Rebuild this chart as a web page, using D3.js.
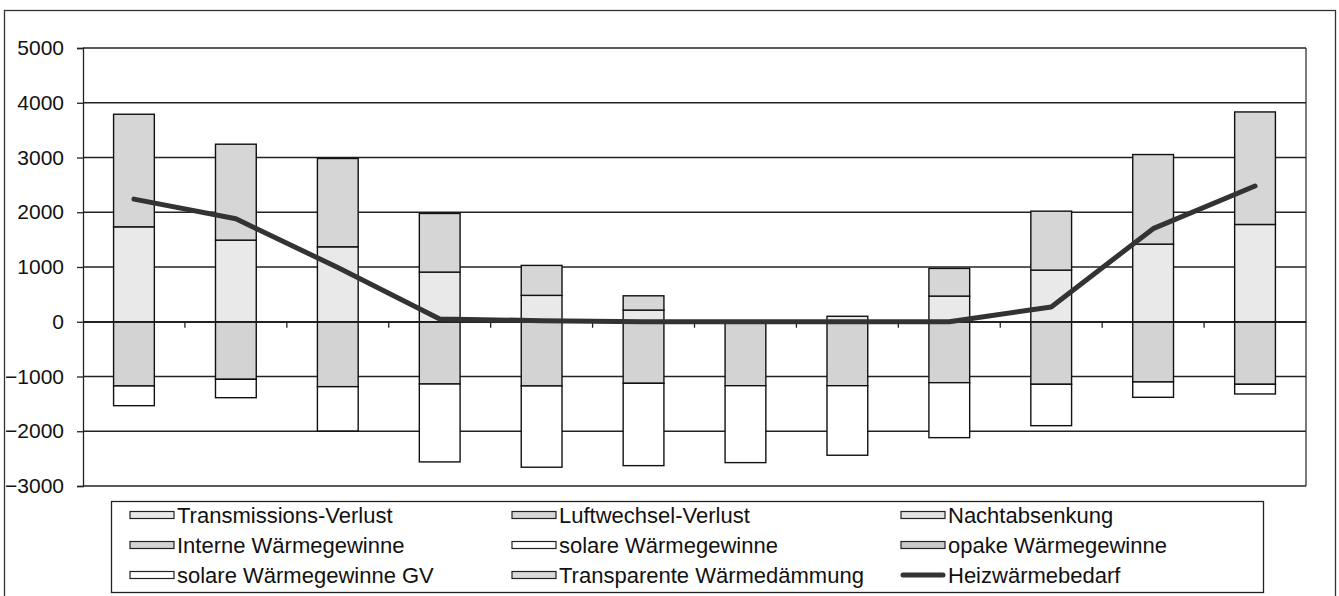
<!DOCTYPE html>
<html>
<head>
<meta charset="utf-8">
<script src="https://cdn.jsdelivr.net/npm/d3@7"></script>
<style>
  body { margin: 0; background: #fff; }
  text { font-family: "Liberation Sans", Arial, sans-serif; fill: #111; }
</style>
</head>
<body>
<div id="chart"></div>
<script>
// months (no labels shown on the axis)
let months = ["Jan", "Feb", "Mär", "Apr", "Mai", "Jun", "Jul", "Aug", "Sep", "Okt", "Nov", "Dez"];

let seriesNames = ["Transmissions-Verlust", "Luftwechsel-Verlust", "Nachtabsenkung",
    "Interne Wärmegewinne", "solare Wärmegewinne", "opake Wärmegewinne",
    "solare Wärmegewinne GV", "Transparente Wärmedämmung"];

let transmission = [1734, 1491, 1369, 907, 482, 213, 0, 100, 469, 943, 1418, 1777];
let luftwechsel = [2056, 1752, 1613, 1071, 547, 261, 0, 0, 505, 1077, 1636, 2055];
let nachtabsenkung = [0, 0, 0, 0, 0, 0, 0, 0, 0, 0, 0, 0];
let interne = [-1173, -1051, -1186, -1137, -1173, -1124, -1168, -1168, -1113, -1142, -1100, -1142];
let solare = [-360, -336, -809, -1423, -1484, -1504, -1405, -1270, -1004, -756, -280, -177];
let opake = [0, 0, 0, 0, 0, 0, 0, 0, 0, 0, 0, 0];
let solareGV = [0, 0, 0, 0, 0, 0, 0, 0, 0, 0, 0, 0];
let twd = [0, 0, 0, 0, 0, 0, 0, 0, 0, 0, 0, 0];
let heizwaerme = [2240, 1880, 990, 50, 20, 0, 0, 0, 0, 270, 1700, 2480];

let yTicks = [-3000, -2000, -1000, 0, 1000, 2000, 3000, 4000, 5000];

let fills = ["#e9e9e9", "#d6d6d6", "#e2e2e2", "#d3d3d3", "#ffffff", "#c9c9c9", "#ffffff", "#dadada"];

let seriesValues = [transmission, luftwechsel, nachtabsenkung, interne, solare, opake, solareGV, twd];

let data = months.map(function (m, i) {
    let row = { name: m };
    seriesNames.forEach(function (s, k) { row[s] = seriesValues[k][i]; });
    row.heiz = heizwaerme[i];
    return row;
});

let margin = { top: 48, right: 33, bottom: 110, left: 83 },
    width = 1339 - margin.left - margin.right,
    height = 596 - margin.top - margin.bottom;

let root = d3.select("#chart")
    .append("svg")
    .attr("width", 1339)
    .attr("height", 596);

// outer chart border
root.append("rect")
    .attr("x", 4.5).attr("y", 10.5)
    .attr("width", 1331).attr("height", 600)
    .attr("fill", "none")
    .attr("stroke", "#333")
    .attr("stroke-width", 1.3);

let svg = root.append("g")
    .attr("transform", "translate(" + margin.left + "," + margin.top + ")");

let x = d3.scaleBand()
    .range([0, width])
    .domain(months)
    .padding(0);

let y = d3.scaleLinear()
    .domain([-3000, 5000])
    .range([height, 0]);

// gridlines
svg.append("g")
    .selectAll("line")
    .data(yTicks)
    .enter()
    .append("line")
    .attr("x1", 0).attr("x2", width)
    .attr("y1", function (d) { return y(d); })
    .attr("y2", function (d) { return y(d); })
    .attr("stroke", "#222")
    .attr("stroke-width", 1.3);

// right edge of plot area
svg.append("line")
    .attr("x1", width).attr("x2", width)
    .attr("y1", 0).attr("y2", height)
    .attr("stroke", "#333").attr("stroke-width", 1.3);

// y axis
let yAxis = svg.append("g")
    .call(d3.axisLeft(y).tickValues(yTicks).tickSize(6).tickPadding(13).tickFormat(d3.format("d")));
yAxis.selectAll("text").style("font-size", "21px").attr("fill", "#111");
yAxis.selectAll("line").attr("stroke", "#222").attr("stroke-width", 1.3);
yAxis.select(".domain").attr("stroke", "#222").attr("stroke-width", 1.3);

// stacked bars
let stack = d3.stack()
    .keys(seriesNames)
    .offset(d3.stackOffsetDiverging);
let stacked = stack(data);

let barW = x.bandwidth() / 2.5;

svg.append("g")
    .selectAll("g")
    .data(stacked)
    .enter()
    .append("g")
    .attr("fill", function (d, i) { return fills[i]; })
    .selectAll("rect")
    .data(function (d) { return d.filter(function (p) { return p[1] - p[0] !== 0; }); })
    .enter()
    .append("rect")
    .attr("x", function (d) { return x(d.data.name) + (x.bandwidth() - barW) / 2; })
    .attr("y", function (d) { return y(Math.max(d[0], d[1])); })
    .attr("width", barW)
    .attr("height", function (d) { return Math.abs(y(d[0]) - y(d[1])); })
    .attr("stroke", "#111")
    .attr("stroke-width", 1.4);

// x axis on zero
let xAxis = svg.append("g")
    .attr("transform", "translate(0," + y(0) + ")")
    .call(d3.axisBottom(x).tickSize(0).tickFormat(""));
xAxis.select(".domain").attr("stroke", "#222").attr("stroke-width", 1.3);

// category ticks between months
svg.append("g")
    .selectAll("line")
    .data(months.slice(1))
    .enter()
    .append("line")
    .attr("x1", function (d) { return x(d); })
    .attr("x2", function (d) { return x(d); })
    .attr("y1", y(0)).attr("y2", y(0) + 6)
    .attr("stroke", "#222").attr("stroke-width", 1.3);

// Heizwärmebedarf line
svg.append("path")
    .datum(data)
    .attr("fill", "none")
    .attr("stroke", "#333")
    .attr("stroke-width", 5)
    .attr("stroke-linecap", "round")
    .attr("stroke-linejoin", "round")
    .attr("d", d3.line()
        .x(function (d) { return x(d.name) + x.bandwidth() / 2; })
        .y(function (d) { return y(d.heiz); })
    );

// legend
let legend = root.append("g");
legend.append("rect")
    .attr("x", 111.5).attr("y", 501.5)
    .attr("width", 1152).attr("height", 91)
    .attr("fill", "#fff")
    .attr("stroke", "#222")
    .attr("stroke-width", 1.3);

let colX = [130, 512, 901];
let rowY = [515, 545, 575];
let legendItems = seriesNames.concat(["Heizwärmebedarf"]);

legendItems.forEach(function (name, i) {
    let cx = colX[i % 3], cy = rowY[Math.floor(i / 3)];
    if (i < seriesNames.length) {
        legend.append("rect")
            .attr("x", cx).attr("y", cy - 3.5)
            .attr("width", 44).attr("height", 7)
            .attr("fill", fills[i])
            .attr("stroke", "#222")
            .attr("stroke-width", 1.2);
    } else {
        legend.append("line")
            .attr("x1", cx + 2).attr("x2", cx + 42)
            .attr("y1", cy).attr("y2", cy)
            .attr("stroke", "#333")
            .attr("stroke-width", 5)
            .attr("stroke-linecap", "round");
    }
    legend.append("text")
        .attr("x", cx + 47)
        .attr("y", cy)
        .attr("dy", "0.36em")
        .style("font-size", "22px")
        .text(name);
});
</script>
</body>
</html>
